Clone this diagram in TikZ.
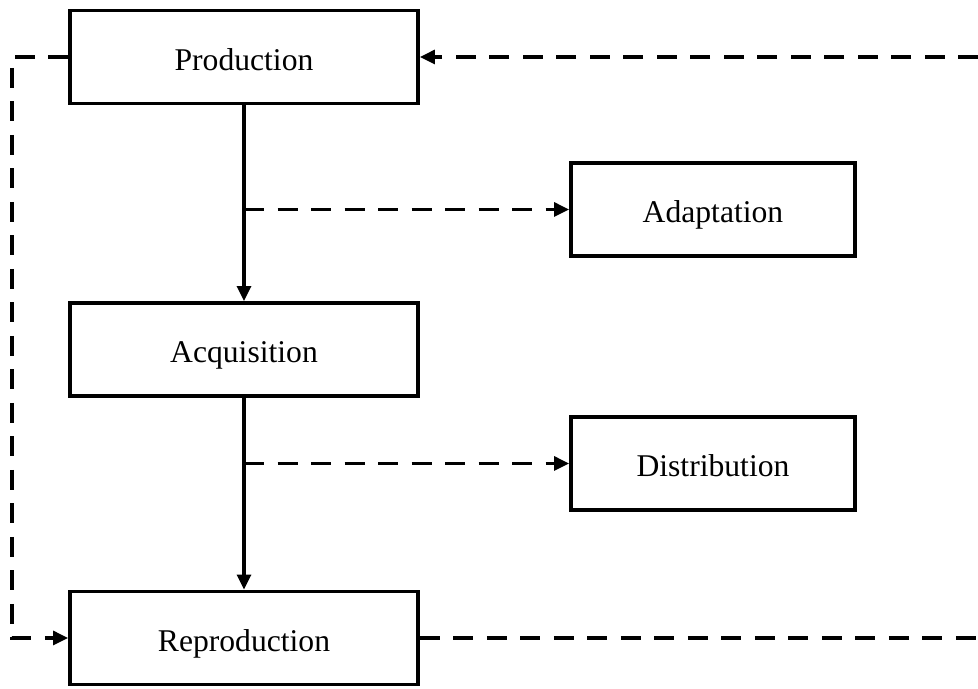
\documentclass[tikz,border=0pt]{standalone}
\usepackage{fontspec}
\setmainfont{Liberation Serif}
\usetikzlibrary{arrows.meta,positioning}
\tikzset{
  stagebox/.style={draw, line width=2.2pt, minimum height=1.86cm, inner sep=0pt, text height=16pt, text depth=1pt, font=\fontsize{18}{20}\selectfont},
  flow/.style={line width=1.8pt, -{Triangle[length=0.3cm, width=0.28cm]}},
  loopline/.style={line width=1.8pt, dash pattern=on 0.4cm off 0.27cm}
}
\begin{document}
\begin{tikzpicture}
\useasboundingbox (0,0) rectangle (19.56,13.78);
\node[stagebox, minimum width=6.96cm] (prod) at (4.88, 12.64) {Production};
\node[stagebox, minimum width=6.96cm] (acq) at (4.88, 6.79) {Acquisition};
\node[stagebox, minimum width=6.96cm] (repr) at (4.88, 1.02) {Reproduction};
\node[stagebox, minimum width=5.68cm] (adapt) at (14.26, 9.59) {Adaptation};
\node[stagebox, minimum width=5.68cm] (distr) at (14.26, 4.51) {Distribution};

\coordinate (lft) at (0.24, 0);
\coordinate (rtop) at (19.56, 12.64);
\coordinate (rbot) at (19.56, 1.02);

\draw[flow] (prod) -- (acq);
\draw[flow] (acq) -- (repr);
\draw[flow, loopline] (prod.south |- adapt.west) -- (adapt.west);
\draw[flow, loopline] (acq.south |- distr.west) -- (distr.west);

\draw[flow, loopline] (prod.west) -- (lft |- prod.west) -- (lft |- repr.west) -- (repr.west);
\draw[loopline] (repr.east) -- (rbot);
\draw[flow, loopline] (rtop) -- (prod.east);
\end{tikzpicture}
\end{document}
